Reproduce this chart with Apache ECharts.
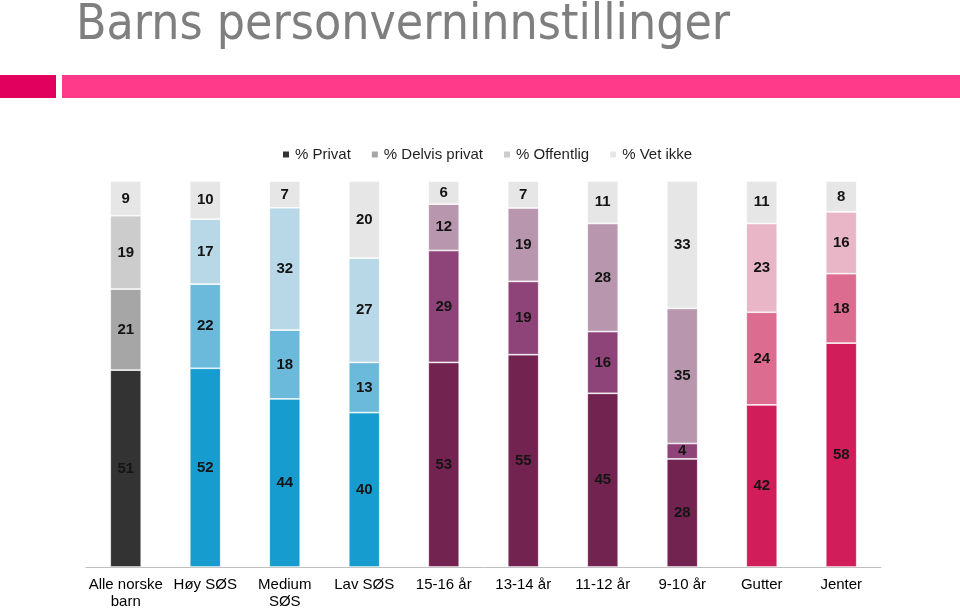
<!DOCTYPE html>
<html>
<head>
<meta charset="utf-8">
<script src="https://cdn.jsdelivr.net/npm/echarts@6/dist/echarts.min.js"></script>
<style>html,body{margin:0;padding:0;background:#fff;}#c{width:960px;height:609px;}</style>
</head>
<body>
<div id="c"></div>
<script>
var categories = ['Alle norske\nbarn','Høy SØS','Medium\nSØS','Lav SØS','15-16 år','13-14 år','11-12 år','9-10 år','Gutter','Jenter'];
var seriesNames = ['% Privat','% Delvis privat','% Offentlig','% Vet ikke'];
var privat    = [51,52,44,40,53,55,45,28,42,58];
var delvis    = [21,22,18,13,29,19,16,4,24,18];
var offentlig = [19,17,32,27,12,19,28,35,23,16];
var vetIkke   = [9,10,7,20,6,7,11,33,11,8];
var groupOf = [0,1,1,1,2,2,2,2,3,3];
var palettes = [
  ['#333333','#a6a6a6','#cccccc','#e6e6e6'],
  ['#179ccf','#6bbadb','#b8d8e7','#e6e6e6'],
  ['#722350','#8f4479','#b896ad','#e6e6e6'],
  ['#d11d5a','#dc6c90','#e8b6c7','#e6e6e6']
];
var allSeries = [privat, delvis, offentlig, vetIkke];
var totals = categories.map(function(_, i){ return privat[i]+delvis[i]+offentlig[i]+vetIkke[i]; });

var chart = echarts.init(document.getElementById('c'));
var series = allSeries.map(function(arr, s){
  return {
    name: seriesNames[s],
    type: 'bar',
    stack: 'all',
    barWidth: 31,
    color: palettes[0][s],
    data: arr.map(function(v, i){
      return {
        value: v / totals[i] * 100,
        raw: v,
        itemStyle: { color: palettes[groupOf[i]][s] }
      };
    }),
    itemStyle: { borderColor: '#ffffff', borderWidth: 0.7 },
    label: {
      show: true,
      position: 'inside',
      fontFamily: 'Liberation Sans, Arial, sans-serif',
      fontSize: 15,
      fontWeight: 'bold',
      color: '#141414',
      formatter: function(p){ return p.data.raw; }
    },
    emphasis: { disabled: true }
  };
});

chart.setOption({
  animation: false,
  graphic: [
    { type: 'text', left: 76, top: 1, style: { text: 'Barns personverninnstillinger', fontFamily: 'Liberation Sans Narrow, DejaVu Sans Condensed, Arial, sans-serif', fontSize: 49.5, fill: '#7f7f7f' } },
    { type: 'rect', shape: { x: 0, y: 75, width: 56, height: 23 }, style: { fill: '#e2005f' } },
    { type: 'rect', shape: { x: 62, y: 75, width: 898, height: 23 }, style: { fill: '#ff3a8a' } }
  ],
  legend: {
    top: 142,
    left: 276,
    icon: 'rect',
    itemWidth: 8,
    itemHeight: 8,
    itemGap: 19,
    textStyle: { fontFamily: 'Liberation Sans, Arial, sans-serif', fontSize: 15, color: '#1f1f1f' },
    data: seriesNames
  },
  grid: { left: 86, right: 79, top: 181, bottom: 42, containLabel: false, outerBoundsMode: 'none' },
  xAxis: {
    type: 'category',
    data: categories,
    axisLine: { lineStyle: { color: '#bfbfbf', width: 1 } },
    axisTick: { show: false },
    axisLabel: { interval: 0, margin: 9, fontFamily: 'Liberation Sans, Arial, sans-serif', fontSize: 15, color: '#000', lineHeight: 17 }
  },
  yAxis: {
    type: 'value', min: 0, max: 100, show: false,
    splitLine: { show: false }
  },
  series: series
});
</script>
</body>
</html>
